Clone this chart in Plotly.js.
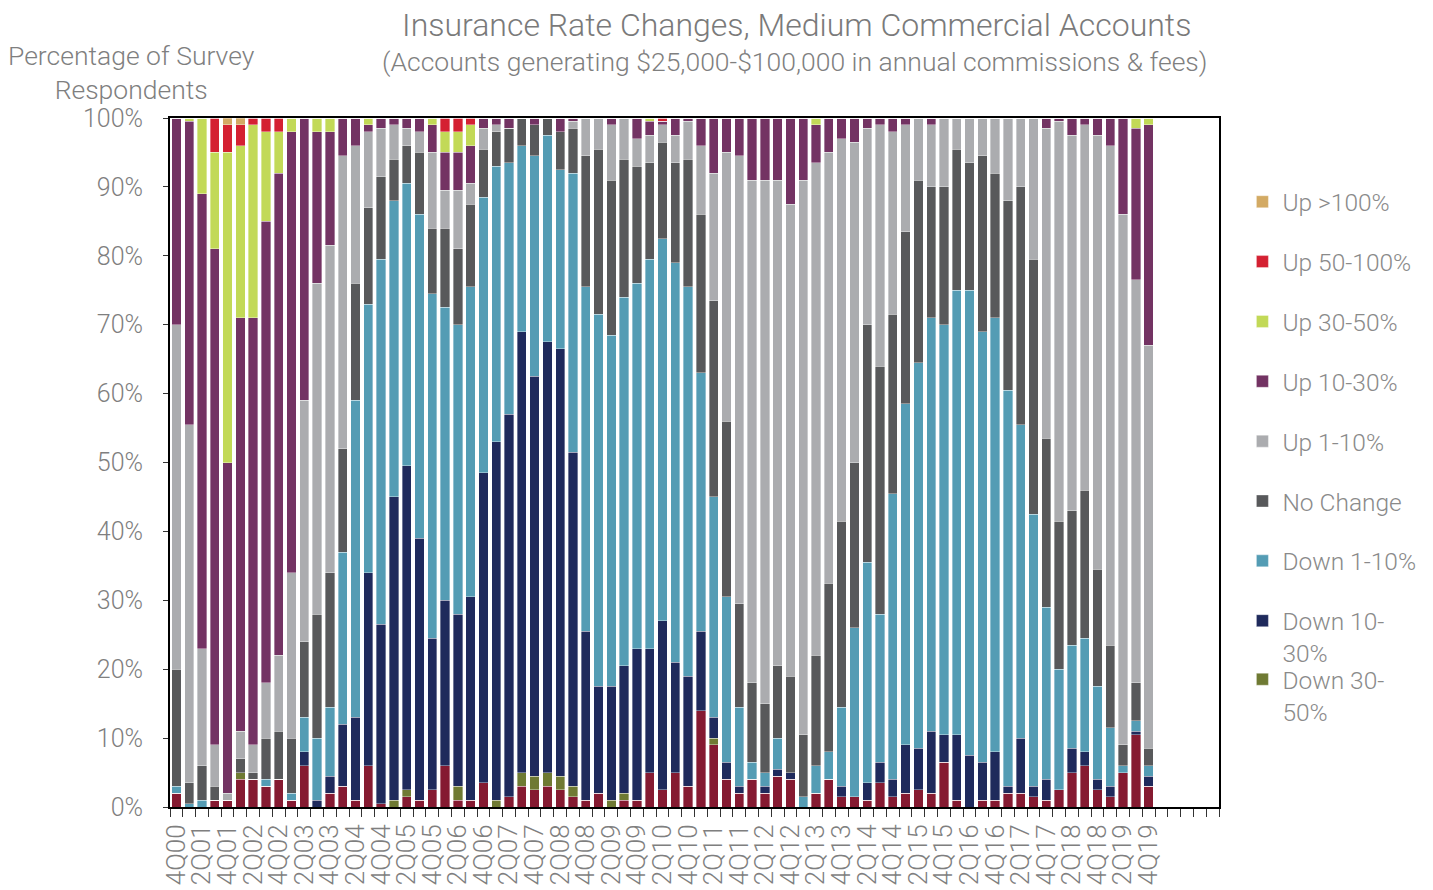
<!DOCTYPE html>
<html>
<head>
<meta charset="utf-8">
<script src="https://cdn.plot.ly/plotly-3.0.1.min.js"></script>
<style>
  body { margin: 0; background: #fff; }
  #chart { width: 1433px; height: 890px; }
</style>
</head>
<body>
<div id="chart"></div>
<script>
// quarters 4Q00 .. 1Q21 (last five are empty slots on the axis)
const quarters = [
  "4Q00","1Q01","2Q01","3Q01","4Q01","1Q02","2Q02","3Q02","4Q02","1Q03","2Q03","3Q03","4Q03",
  "1Q04","2Q04","3Q04","4Q04","1Q05","2Q05","3Q05","4Q05","1Q06","2Q06","3Q06","4Q06",
  "1Q07","2Q07","3Q07","4Q07","1Q08","2Q08","3Q08","4Q08","1Q09","2Q09","3Q09","4Q09",
  "1Q10","2Q10","3Q10","4Q10","1Q11","2Q11","3Q11","4Q11","1Q12","2Q12","3Q12","4Q12",
  "1Q13","2Q13","3Q13","4Q13","1Q14","2Q14","3Q14","4Q14","1Q15","2Q15","3Q15","4Q15",
  "1Q16","2Q16","3Q16","4Q16","1Q17","2Q17","3Q17","4Q17","1Q18","2Q18","3Q18","4Q18",
  "1Q19","2Q19","3Q19","4Q19","1Q20","2Q20","3Q20","4Q20","1Q21"
];
const labelledQuarters = [
  "4Q00","2Q01","4Q01","2Q02","4Q02","2Q03","4Q03","2Q04","4Q04","2Q05","4Q05","2Q06","4Q06",
  "2Q07","4Q07","2Q08","4Q08","2Q09","4Q09","2Q10","4Q10","2Q11","4Q11","2Q12","4Q12",
  "2Q13","4Q13","2Q14","4Q14","2Q15","4Q15","2Q16","4Q16","2Q17","4Q17","2Q18","4Q18",
  "2Q19","4Q19"
];

// percent of respondents, one value per quarter 4Q00..4Q19
const downOver50 = [2,0,0,1,1,4,4,3,4,1,6,0,2,3,1,6,0.5,0,1.5,1,2.5,6,1,1,3.5,0,1.5,3,2.5,3,2.5,1.5,1,2,0,1,1,5,2.5,5,3,14,9,4,2,4,2,4.5,4,0,2,4,1.5,1.5,1,3.5,1.5,2,2.5,2,6.5,1,0,1,1,2,2,1.5,1,2.5,5,6,2.5,1.5,5,10.5,3];
const down30to50 = [0,0,0,0,0,1,0,0,0,0,0,0,0,0,0,0,0,1,1,0,0,0,2,0,0,1,0,2,2,2,2,1.5,0,0,1,1,0,0,0,0,0,0,1,0,0,0,0,0,0,0,0,0,0,0,0,0,0,0,0,0,0,0,0,0,0,0,0,0,0,0,0,0,0,0,0,0,0];
const down10to30 = [0,0,0,0,0,0,0,0,0,0,2,1,2.5,9,12,28,26,44,47,38,22,24,25,29.5,45,52,55.5,64,58,62.5,62,48.5,24.5,15.5,16.5,18.5,22,18,24.5,16,16,11.5,3,2.5,1,0,1,1,1,0,0,0,1.5,0,2.5,3,2.5,7,6,9,4,9.5,7.5,5.5,7,1,8,1.5,3,0,3.5,2,1.5,1.5,0,0.5,1.5];
const down1to10 = [1,0.5,1,0,0,0,0,1,0,1,5,9,10,25,46,39,53,43,41,47,50,42.5,42,45,40,40,36.5,27,32,30,26,40.5,50,54,51,53.5,53,56.5,55.5,58,56.5,37.5,32,24,11.5,2.5,2,4.5,0,1.5,4,4,11.5,24.5,32,21.5,41.5,49.5,56,60,59.5,64.5,67.5,62.5,63,57.5,45.5,39.5,25,17.5,15,16.5,13.5,8.5,1,1.5,1.5];
const noChange = [17,3,5,2,0,2,1,6,7,8,11,18,19.5,15,17,14,12,6,5.5,9,9.5,11.5,11,12,7,5,5,4,4.5,2.5,5.5,6.5,19,24,22.5,20,17,14,14,14.5,18.5,23,28.5,25.5,15,11.5,10,10.5,14,9,16,24.5,27,24,34.5,36,26,25,26.5,19,20,20.5,18.5,25.5,21,27.5,34.5,37,24.5,21.5,19.5,21.5,17,12,3,5.5,2.5];
const up1to10 = [50,52,17,6,1,4,4,8,11,24,35,48,47.5,42.5,20,11,7,5,2.5,3,11,5.5,8.5,3,3,1,0,0,0,0,0,1,5.5,4.5,8,6,4,4,2.5,4,5.5,10,18.5,39,65,73,76,70.5,68.5,80.5,71.5,62.5,55.5,46.5,28.5,35,26.5,15.5,9,9,10,4.5,6.5,5.5,8,12,10,20.5,45,58,54.5,53,63,72.5,77,58.5,58.5];
const up10to30 = [30,44,66,72,48,60,62,67,70,64,41,22,16.5,5.5,4,1,1.5,1,1.5,2,4,5.5,5.5,5.5,1.5,1,1.5,0,1,0,2,0.5,0,0,1,0,3,2,0.5,2.5,0.5,4,8,5,5.5,9,9,9,12.5,9,5.5,5,3,3.5,1.5,1,2,1,0,1,0,0,0,0,0,0,0,0,1.5,0.5,2.5,1,2.5,4,14,22,32];
const up30to50 = [0,0.5,11,14,45,25,28,13,6,2,0,2,2,0,0,1,0,0,0,0,1,3,3,3,0,0,0,0,0,0,0,0,0,0,0,0,0,0.5,0,0,0,0,0,0,0,0,0,0,0,0,1,0,0,0,0,0,0,0,0,0,0,0,0,0,0,0,0,0,0,0,0,0,0,0,0,1.5,1];
const up50to100 = [0,0,0,5,4,3,1,2,2,0,0,0,0,0,0,0,0,0,0,0,0,2,2,1,0,0,0,0,0,0,0,0,0,0,0,0,0,0,0.5,0,0,0,0,0,0,0,0,0,0,0,0,0,0,0,0,0,0,0,0,0,0,0,0,0,0,0,0,0,0,0,0,0,0,0,0,0,0];
const upOver100 = [0,0,0,0,1,1,0,0,0,0,0,0,0,0,0,0,0,0,0,0,0,0,0,0,0,0,0,0,0,0,0,0,0,0,0,0,0,0,0,0,0,0,0,0,0,0,0,0,0,0,0,0,0,0,0,0,0,0,0,0,0,0,0,0,0,0,0,0,0,0,0,0,0,0,0,0,0,0];

const greyText = "#7f7f7f";

function barTrace(name, values, color, rank, legendId) {
  return {
    type: "bar",
    name: name,
    x: quarters.slice(0, values.length),
    y: values,
    marker: { color: color, line: { color: "rgba(255,255,255,0.6)", width: 0.6 } },
    legend: legendId || "legend",
    legendgroup: name,
    legendrank: rank,
    showlegend: rank > 0,
    hoverinfo: "x+y+name",
  };
}

// bottom of the stack first; legend runs top of stack first
// (last legend entry sits in its own legend so the wrapped entry above it keeps the even spacing)
const data = [
  barTrace("Down >50%", downOver50, "#851a31", 0),
  barTrace("Down 30-<br>50%", down30to50, "#6f7a33", 9, "legend2"),
  barTrace("Down 10-<br>30%", down10to30, "#1f2a5c", 8),
  barTrace("Down 1-10%", down1to10, "#549cb4", 7),
  barTrace("No Change", noChange, "#58595b", 6),
  barTrace("Up 1-10%", up1to10, "#abacaf", 5),
  barTrace("Up 10-30%", up10to30, "#733363", 4),
  barTrace("Up 30-50%", up30to50, "#c2d957", 3),
  barTrace("Up 50-100%", up50to100, "#d42132", 2),
  barTrace("Up >100%", upOver100, "#d3aa64", 1),
];

const tickText = quarters.map((q) => (labelledQuarters.includes(q) ? q : ""));

const legendStyle = {
  xref: "container",
  x: 0.867,
  xanchor: "left",
  yanchor: "top",
  traceorder: "grouped",
  valign: "top",
  tracegroupgap: 25,
  itemwidth: 30,
  font: { size: 24.5, color: "#8a8a8a", weight: 300 },
  bgcolor: "rgba(0,0,0,0)",
};

const layout = {
  width: 1433,
  height: 890,
  margin: { l: 170, r: 214, t: 118, b: 83, autoexpand: false },
  paper_bgcolor: "#ffffff",
  plot_bgcolor: "#ffffff",
  font: { family: "Roboto, 'Open Sans', sans-serif", color: greyText },
  barmode: "stack",
  bargap: 0.27,
  title: {
    text: "Insurance Rate Changes, Medium Commercial Accounts",
    font: { size: 32, color: "#7a7a7a", weight: 300 },
    x: 0.556,
    xanchor: "center",
    xref: "container",
    y: 0.972,
    yanchor: "middle",
    yref: "container",
  },
  xaxis: {
    type: "category",
    categoryorder: "array",
    categoryarray: quarters,
    range: [-0.5, quarters.length - 0.5],
    tickmode: "array",
    tickvals: quarters,
    ticktext: tickText,
    tickson: "boundaries",
    ticks: "outside",
    ticklen: 8,
    tickwidth: 1,
    tickcolor: "#333333",
    tickangle: -90,
    ticklabelstandoff: 5,
    tickfont: { size: 26, color: greyText, weight: 300 },
    showline: true,
    linecolor: "#000000",
    linewidth: 2,
    mirror: true,
    showgrid: false,
    zeroline: false,
  },
  yaxis: {
    range: [0, 100],
    tickmode: "linear",
    tick0: 0,
    dtick: 10,
    ticksuffix: "%",
    ticks: "outside",
    ticklen: 5,
    tickcolor: "#333333",
    ticklabelstandoff: 15,
    tickfont: { size: 25, color: greyText, weight: 300 },
    showline: true,
    linecolor: "#000000",
    linewidth: 2,
    mirror: true,
    showgrid: false,
    zeroline: false,
  },
  legend: Object.assign({}, legendStyle, { y: 0.911 }),
  legend2: Object.assign({}, legendStyle, { y: 0.218 }),
  annotations: [
    {
      text: "(Accounts generating $25,000-$100,000 in annual commissions &amp; fees)",
      xref: "paper",
      yref: "paper",
      x: 0.595,
      y: 1.082,
      xanchor: "center",
      yanchor: "middle",
      showarrow: false,
      font: { size: 26.5, color: greyText, weight: 300 },
    },
    {
      text: "Percentage of Survey<br>Respondents",
      xref: "paper",
      yref: "paper",
      x: -0.037,
      y: 1.066,
      xanchor: "center",
      yanchor: "middle",
      showarrow: false,
      font: { size: 26.5, color: greyText, weight: 300 },
    },
  ],
};

Plotly.newPlot("chart", data, layout, { displayModeBar: false, responsive: false });
</script>
</body>
</html>
